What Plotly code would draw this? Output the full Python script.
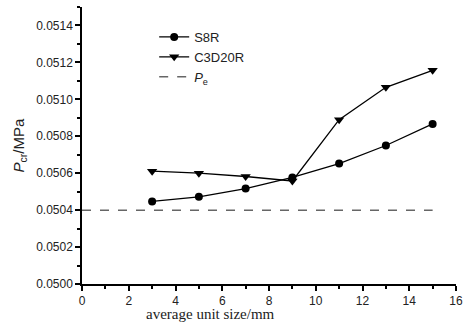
import plotly.graph_objects as go

sizes = [3, 5, 7, 9, 11, 13, 15]
s8r = [0.050447, 0.050472, 0.050517, 0.050577, 0.050652, 0.050750, 0.050867]
c3d20r = [0.050611, 0.050600, 0.050582, 0.050558, 0.050890, 0.051065, 0.051157]
pe_x = [0, 15]
pe_y = [0.0504, 0.0504]
x_title = "average unit size/mm"

fig = go.Figure()
fig.add_trace(go.Scatter(x=sizes, y=s8r, name="S8R", mode="lines+markers",
                         line=dict(color="black", width=1.3),
                         marker=dict(symbol="circle", size=8, color="black")))
fig.add_trace(go.Scatter(x=sizes, y=c3d20r, name="C3D20R", mode="lines+markers",
                         line=dict(color="black", width=1.3),
                         marker=dict(symbol="triangle-down", size=9, color="black")))
fig.add_trace(go.Scatter(x=pe_x, y=pe_y, name="<i>P</i><sub>e</sub>", mode="lines",
                         line=dict(color="#666666", width=1.5, dash="dash")))

font_sans = "Arial, Liberation Sans, sans-serif"
fig.update_layout(
    width=463, height=322,
    margin=dict(l=82, r=7, t=7, b=38, autoexpand=False),
    paper_bgcolor="white", plot_bgcolor="white",
    font=dict(family=font_sans, size=12, color="#222"),
    legend=dict(x=0.193, y=0.946, xanchor="left", yanchor="top",
                bgcolor="rgba(0,0,0,0)", font=dict(size=13, family=font_sans),
                tracegroupgap=0, itemwidth=30),
    showlegend=True,
)
fig.add_annotation(text=x_title, xref="paper", yref="paper", x=0.344, y=-0.108,
                   xanchor="center", yanchor="middle", showarrow=False,
                   font=dict(family="Times New Roman, Liberation Serif, serif", size=15,
                             color="#222"))
fig.update_xaxes(
    range=[0, 16], dtick=2, tick0=0, showgrid=False, zeroline=False, automargin=False,
    showline=True, linecolor="black", linewidth=1.5,
    ticks="outside", ticklen=5, tickwidth=1.5, tickcolor="black",
    ticklabeloverflow="allow", ticklabelstandoff=0,
    minor=dict(ticks="outside", ticklen=3, dtick=1, tickcolor="black", tickwidth=1.5),
    tickfont=dict(size=12, family=font_sans),
)
fig.update_yaxes(
    range=[0.0500, 0.0515], dtick=0.0002, tick0=0.05, tickformat=".4f",
    showgrid=False, zeroline=False, automargin=False,
    showline=True, linecolor="black", linewidth=1.5,
    ticks="outside", ticklen=5, tickwidth=1.5, tickcolor="black",
    minor=dict(ticks="outside", ticklen=3, dtick=0.0001, tickcolor="black", tickwidth=1.5),
    tickfont=dict(size=12, family=font_sans),
    title=dict(text="<i>P</i><sub>cr</sub>/MPa", standoff=8,
               font=dict(family=font_sans, size=15)),
)

fig.write_html(
    "out.html",
    config={"displayModeBar": False},
    post_script="document.body.style.margin='0';document.body.style.overflow='hidden';",
)
